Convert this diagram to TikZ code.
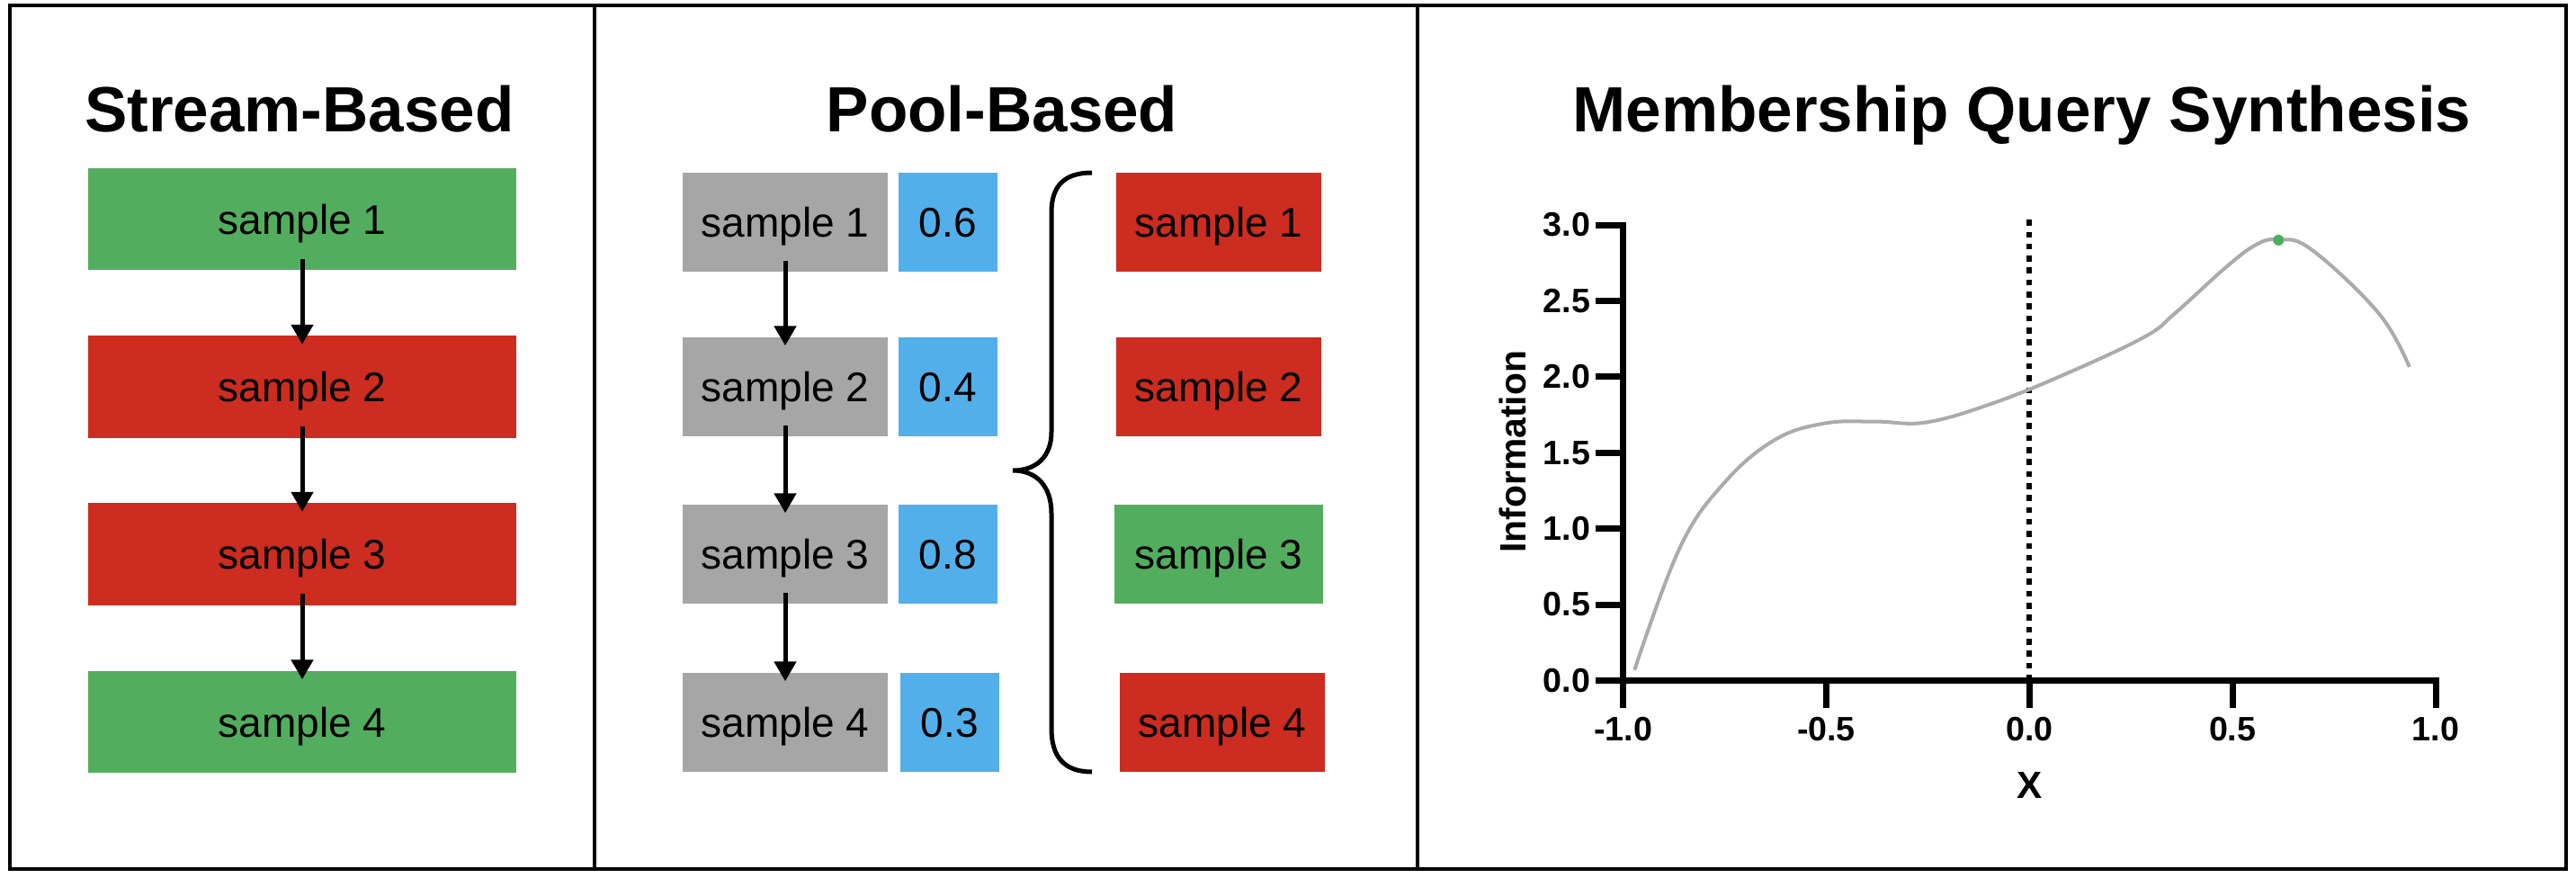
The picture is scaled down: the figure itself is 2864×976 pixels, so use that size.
\documentclass[tikz,border=0pt]{standalone}
\usepackage{fontspec}
\setmainfont{Liberation Sans}
\usetikzlibrary{arrows.meta}
\definecolor{goodgreen}{HTML}{52AE5E}
\definecolor{badred}{HTML}{CD2C20}
\definecolor{poolgray}{HTML}{A6A6A6}
\definecolor{scoreblue}{HTML}{52AFEA}
\definecolor{curvegray}{HTML}{ABABAB}
\definecolor{peakgreen}{HTML}{4CAF5A}
\begin{document}
\begin{tikzpicture}[x=0.01cm,y=-0.01cm,
	box/.style={rectangle,inner sep=0pt,text depth=0pt,font=\fontsize{13.1}{15}\selectfont},
	streambox/.style={box,minimum width=4.76cm,minimum height=1.13cm},
	poolbox/.style={box,minimum width=2.28cm,minimum height=1.1cm},
	scorebox/.style={box,minimum width=1.1cm,minimum height=1.1cm,fill=scoreblue},
	paneltitle/.style={font=\fontsize{20.2}{24}\selectfont\bfseries,anchor=base,inner sep=0pt},
	flow/.style={-{Triangle[width=0.24cm,length=0.22cm]},line width=0.05cm,shorten <=-0.13cm,shorten >=-0.1cm},
	frame/.style={line width=0.045cm},
	bracket/.style={line width=0.05cm},
	axisline/.style={line width=0.07cm,line cap=rect},
	ticklabel/.style={font=\fontsize{10.7}{12}\selectfont\bfseries,inner sep=0pt},
	axislabel/.style={font=\fontsize{11.6}{14}\selectfont\bfseries,inner sep=0pt}]
	\useasboundingbox (0,0) rectangle (2864,976);
	\draw[frame] (11,6) rectangle (2853,966);
	\draw[frame] (661,6) -- (661,966);
	\draw[frame] (1576,6) -- (1576,966);

	\node[paneltitle] (streamtitle) at (333,147) {Stream-Based};
	\node[paneltitle] (pooltitle) at (1114,147) {Pool-Based};
	\node[paneltitle] (querytitle) at (2248,147) {Membership Query Synthesis};

	\node[streambox,fill=goodgreen] (s1) at (336,243.5) {sample 1};
	\node[streambox,fill=badred] (s2) at (336,430) {sample 2};
	\node[streambox,fill=badred] (s3) at (336,616) {sample 3};
	\node[streambox,fill=goodgreen] (s4) at (336,802.5) {sample 4};
	\draw[flow] (s1) -- (s2);
	\draw[flow] (s2) -- (s3);
	\draw[flow] (s3) -- (s4);

	\node[poolbox,fill=poolgray] (p1) at (873,247) {sample 1};
	\node[poolbox,fill=poolgray] (p2) at (873,430) {sample 2};
	\node[poolbox,fill=poolgray] (p3) at (873,616) {sample 3};
	\node[poolbox,fill=poolgray] (p4) at (873,803) {sample 4};
	\node[scorebox] (v1) at (1054,247) {0.6};
	\node[scorebox] (v2) at (1054,430) {0.4};
	\node[scorebox] (v3) at (1054,616) {0.8};
	\node[scorebox] (v4) at (1056,803) {0.3};
	\node[poolbox,fill=badred] (q1) at (1355,247) {sample 1};
	\node[poolbox,fill=badred] (q2) at (1355,430) {sample 2};
	\node[poolbox,fill=goodgreen,minimum width=2.32cm] (q3) at (1355,616) {sample 3};
	\node[poolbox,fill=badred] (q4) at (1359,803) {sample 4};
	\draw[flow] (p1) -- (p2);
	\draw[flow] (p2) -- (p3);
	\draw[flow] (p3) -- (p4);
	\draw[bracket] (1214,192) .. controls (1182,192) and (1169,208) .. (1169,236) -- (1169,480)
		.. controls (1169,508) and (1152,523) .. (1126,523)
		.. controls (1152,523) and (1169,540) .. (1169,571) -- (1169,810)
		.. controls (1169,840) and (1182,858) .. (1214,858);

	\begin{scope}[shift={(22.55cm,-7.56cm)},x=4.515cm,y=1.687cm]
		\draw[axisline] (-1.059,0) -- (1,0);
		\draw[axisline] (-1,-0.16) -- (-1,3);
		\foreach \t in {-0.5,0,0.5,1}
			\draw[axisline] (\t,0) -- (\t,-0.16);
		\foreach \v in {0.5,1,1.5,2,2.5,3}
			\draw[axisline] (-1,\v) -- (-1.059,\v);
		\foreach \v/\lab [count=\i] in {0/0.0,0.5/0.5,1/1.0,1.5/1.5,2/2.0,2.5/2.5,3/3.0}
			\node[ticklabel,anchor=east] (ytick\i) at (-1.079,\v) {\lab};
		\foreach \t/\lab [count=\i] in {-1/-1.0,-0.5/-0.5,0/0.0,0.5/0.5,1/1.0}
			\node[ticklabel] (xtick\i) at (\t,-0.32) {\lab};
		\node[axislabel,font=\fontsize{12}{14}\selectfont\bfseries] (xlabel) at (0,-0.688) {X};
		\node[axislabel,rotate=90] (ylabel) at (-1.271,1.506) {Information};
		\draw[line width=0.06cm,dash pattern=on 0.065cm off 0.068cm] (0,0) -- (0,3.035);
		\draw[curvegray,line width=0.04cm] plot[smooth,tension=0.65] coordinates {(-0.972,0.069) (-0.861,0.870) (-0.754,1.293) (-0.629,1.581) (-0.505,1.693) (-0.379,1.705) (-0.254,1.700) (-0.093,1.823) (0.085,2.014) (0.282,2.261) (0.359,2.42) (0.483,2.72) (0.558,2.87) (0.612,2.903) (0.693,2.84) (0.859,2.42) (0.935,2.065)};
		\fill[peakgreen] (0.613,2.90) circle (0.06cm);
	\end{scope}
\end{tikzpicture}
\end{document}
